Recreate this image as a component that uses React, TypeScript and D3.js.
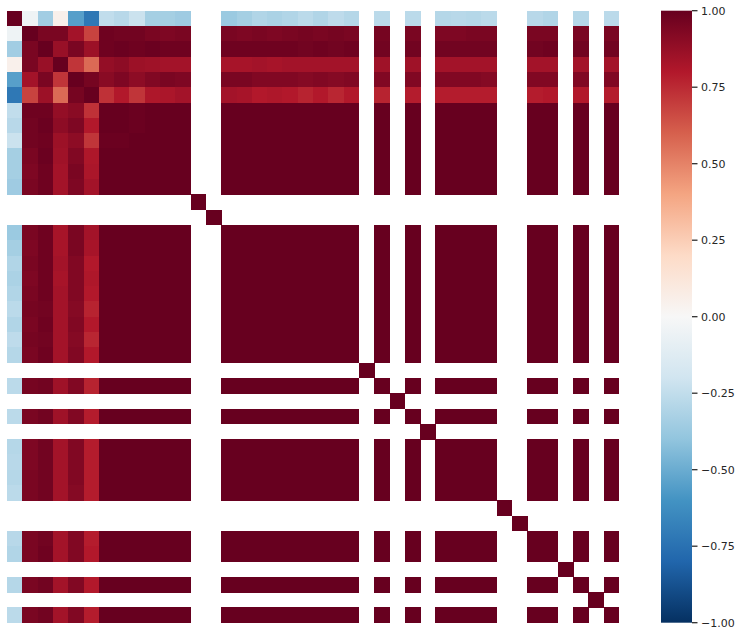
import React from "react";
import * as d3 from "d3";

const N = null;

// first six variables: full rows of the correlation matrix (null = NaN)
const row0 = [1,-0.05,-0.35,0.05,-0.55,-0.72,-0.25,-0.28,-0.22,-0.34,-0.34,-0.36,N,N,-0.37,-0.34,-0.30,-0.32,-0.30,-0.27,-0.30,-0.26,-0.29,N,-0.27,N,-0.27,N,-0.29,-0.28,-0.29,-0.27,N,N,-0.28,-0.30,N,-0.29,N,-0.27];
const row1 = [-0.05,1,0.95,0.95,0.84,0.68,0.98,0.97,0.97,0.95,0.94,0.95,N,N,0.95,0.94,0.95,0.94,0.95,0.96,0.95,0.96,0.95,N,0.96,N,0.95,N,0.94,0.94,0.95,0.95,N,N,0.95,0.95,N,0.95,N,0.95];
const row2 = [-0.35,0.95,1,0.87,0.95,0.86,0.98,0.99,0.98,0.99,0.98,0.98,N,N,0.98,0.98,0.98,0.98,0.98,0.97,0.98,0.97,0.98,N,0.97,N,0.97,N,0.97,0.97,0.97,0.97,N,N,0.97,0.98,N,0.97,N,0.97];
const row3 = [0.05,0.95,0.87,1,0.72,0.57,0.88,0.90,0.86,0.85,0.84,0.84,N,N,0.83,0.83,0.84,0.83,0.84,0.84,0.84,0.84,0.84,N,0.85,N,0.85,N,0.84,0.84,0.84,0.84,N,N,0.84,0.84,N,0.84,N,0.84];
const row4 = [-0.55,0.84,0.95,0.72,1,0.96,0.91,0.94,0.90,0.93,0.95,0.94,N,N,0.95,0.95,0.93,0.93,0.93,0.92,0.93,0.92,0.93,N,0.93,N,0.93,N,0.93,0.93,0.93,0.92,N,N,0.93,0.93,N,0.93,N,0.93];
const row5 = [-0.72,0.68,0.86,0.57,0.96,1,0.73,0.80,0.72,0.81,0.82,0.84,N,N,0.84,0.83,0.80,0.81,0.80,0.77,0.80,0.76,0.80,N,0.77,N,0.79,N,0.79,0.79,0.79,0.79,N,N,0.79,0.80,N,0.80,N,0.79];
const leadRows = [row0, row1, row2, row3, row4, row5];

// variables that are correlated with each other (the large dark block)
const groupVars = [6,7,8,9,10,11,14,15,16,17,18,19,20,21,22,24,26,28,29,30,31,34,35,37,39];
// constant variables: only their diagonal is defined
const constVars = [12,13,23,25,27,32,33,36,38];

const groupCorr = [
  [1,1,.99,1,1,1,1,1,1,1,1,1,1,1,1,1,1,1,1,1,1,1,1,1,1],
  [1,1,.99,1,1,1,1,1,1,1,1,1,1,1,1,1,1,1,1,1,1,1,1,1,1],
  [.99,.99,1,1,1,1,1,1,1,1,1,1,1,1,1,1,1,1,1,1,1,1,1,1,1],
  [1,1,1,1,1,1,1,1,1,1,1,1,1,1,1,1,1,1,1,1,1,1,1,1,1],
  [1,1,1,1,1,1,1,1,1,1,1,1,1,1,1,1,1,1,1,1,1,1,1,1,1],
  [1,1,1,1,1,1,1,1,1,1,1,1,1,1,1,1,1,1,1,1,1,1,1,1,1],
  [1,1,1,1,1,1,1,1,1,1,1,1,1,1,1,1,1,1,1,1,1,1,1,1,1],
  [1,1,1,1,1,1,1,1,1,1,1,1,1,1,1,1,1,1,1,1,1,1,1,1,1],
  [1,1,1,1,1,1,1,1,1,1,1,1,1,1,1,1,1,1,1,1,1,1,1,1,1],
  [1,1,1,1,1,1,1,1,1,1,1,1,1,1,1,1,1,1,1,1,1,1,1,1,1],
  [1,1,1,1,1,1,1,1,1,1,1,1,1,1,1,1,1,1,1,1,1,1,1,1,1],
  [1,1,1,1,1,1,1,1,1,1,1,1,1,1,1,1,1,1,1,1,1,1,1,1,1],
  [1,1,1,1,1,1,1,1,1,1,1,1,1,1,1,1,1,1,1,1,1,1,1,1,1],
  [1,1,1,1,1,1,1,1,1,1,1,1,1,1,1,1,1,1,1,1,1,1,1,1,1],
  [1,1,1,1,1,1,1,1,1,1,1,1,1,1,1,1,1,1,1,1,1,1,1,1,1],
  [1,1,1,1,1,1,1,1,1,1,1,1,1,1,1,1,1,1,1,1,1,1,1,1,1],
  [1,1,1,1,1,1,1,1,1,1,1,1,1,1,1,1,1,1,1,1,1,1,1,1,1],
  [1,1,1,1,1,1,1,1,1,1,1,1,1,1,1,1,1,1,1,1,1,1,1,1,1],
  [1,1,1,1,1,1,1,1,1,1,1,1,1,1,1,1,1,1,1,1,1,1,1,1,1],
  [1,1,1,1,1,1,1,1,1,1,1,1,1,1,1,1,1,1,1,1,1,1,1,1,1],
  [1,1,1,1,1,1,1,1,1,1,1,1,1,1,1,1,1,1,1,1,1,1,1,1,1],
  [1,1,1,1,1,1,1,1,1,1,1,1,1,1,1,1,1,1,1,1,1,1,1,1,1],
  [1,1,1,1,1,1,1,1,1,1,1,1,1,1,1,1,1,1,1,1,1,1,1,1,1],
  [1,1,1,1,1,1,1,1,1,1,1,1,1,1,1,1,1,1,1,1,1,1,1,1,1],
  [1,1,1,1,1,1,1,1,1,1,1,1,1,1,1,1,1,1,1,1,1,1,1,1,1],
];

const colorbarTicks = [1, 0.75, 0.5, 0.25, 0, -0.25, -0.5, -0.75, -1];

// matplotlib RdBu_r anchor colours, from -1 to 1
const rdbuR = ["#053061","#2166ac","#4393c3","#92c5de","#d1e5f0","#f7f7f7","#fddbc7","#f4a582","#d6604d","#b2182b","#67001f"];

const NVARS = 40;

function buildMatrix(): (number | null)[][] {
  const m: (number | null)[][] = [];
  for (let i = 0; i < NVARS; i++) m.push(new Array(NVARS).fill(null));
  leadRows.forEach((r, i) => {
    r.forEach((v, j) => {
      m[i][j] = v;
      m[j][i] = v;
    });
  });
  groupVars.forEach((gi, a) => {
    groupVars.forEach((gj, b) => {
      m[gi][gj] = groupCorr[a][b];
    });
  });
  constVars.forEach((c) => {
    m[c][c] = 1;
  });
  return m;
}

export default function App() {
  const W = 742, H = 636;
  const left = 7, top = 10.7, size = 612;
  const matrix = buildMatrix();
  const idx = d3.range(NVARS);
  const x = d3.scaleBand<number>().domain(idx).range([left, left + size]);
  const y = d3.scaleBand<number>().domain(idx).range([top, top + size]);

  const color = d3
    .scaleLinear<string>()
    .domain(d3.range(11).map((i) => -1 + i * 0.2))
    .range(rdbuR)
    .interpolate(d3.interpolateRgb)
    .clamp(true);

  const cbX = 661, cbW = 31;
  const cbY = d3.scaleLinear().domain([-1, 1]).range([top + size, top]);

  const cells: JSX.Element[] = [];
  matrix.forEach((row, i) => {
    row.forEach((v, j) => {
      if (v === null) return;
      cells.push(
        <rect
          key={`${i}-${j}`}
          x={x(j)}
          y={y(i)}
          width={x.bandwidth() + 0.4}
          height={y.bandwidth() + 0.4}
          fill={color(v)}
        />
      );
    });
  });

  const fmt = (t: number) => (t < 0 ? "\u2212" + Math.abs(t).toFixed(2) : t.toFixed(2));

  return (
    <svg
      width={W}
      height={H}
      style={{ position: "absolute", left: 0, top: 0, background: "#fff" }}
      fontFamily="DejaVu Sans"
    >
      <defs>
        <linearGradient id="cbgrad" x1="0" y1="1" x2="0" y2="0">
          {rdbuR.map((c, i) => (
            <stop key={i} offset={`${i * 10}%`} stopColor={c} />
          ))}
        </linearGradient>
      </defs>
      <g shapeRendering="crispEdges">{cells}</g>
      <rect x={cbX} y={cbY(1)} width={cbW} height={cbY(-1) - cbY(1)} fill="url(#cbgrad)" />
      <g>
        {colorbarTicks.map((t) => (
          <g key={t} transform={`translate(${cbX + cbW},${cbY(t)})`}>
            <line x1={0} x2={5.5} stroke="#262626" strokeWidth={1.25} />
            <text x={9} dy="0.35em" fontSize={11} fill="#262626">
              {fmt(t)}
            </text>
          </g>
        ))}
      </g>
    </svg>
  );
}
